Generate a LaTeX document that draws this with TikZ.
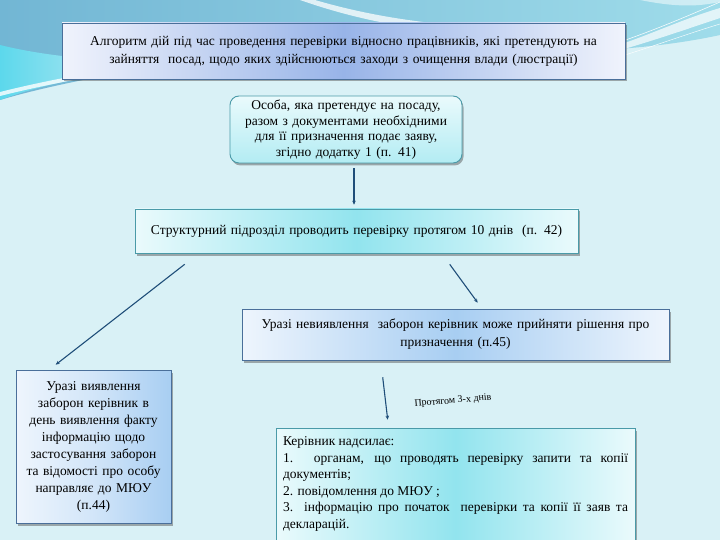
\documentclass[tikz,border=0pt]{standalone}
\usepackage{fontspec}
\setmainfont{Liberation Serif}
\newfontfamily\tms{Liberation Serif}
\usetikzlibrary{shadows,calc,arrows.meta}
\definecolor{bgc}{HTML}{D9F1F6}
\definecolor{topteal}{HTML}{72B6D4}
\definecolor{topcyan}{HTML}{9FDCEA}
\definecolor{brightcyan}{HTML}{5CD8EC}
\definecolor{arrowc}{HTML}{1F4E79}
\definecolor{bordblue}{HTML}{4A6F9A}
\definecolor{bordteal}{HTML}{4A9AA8}
\definecolor{peri}{HTML}{98B4E8}
\definecolor{periedge}{HTML}{F0F3FC}
\definecolor{cyanmid}{HTML}{92E4EE}
\definecolor{cyanedge}{HTML}{EAFAFC}
\definecolor{skymid}{HTML}{A8CEF2}
\definecolor{skyedge}{HTML}{EEF5FD}
\tikzset{
  box/.style={draw, line width=0.6pt, inner sep=3pt, align=center,
    drop shadow={shadow xshift=1.5pt, shadow yshift=-2.5pt, fill=black!70, opacity=0.45}},
  titlebox/.style={box, draw=bordblue, left color=periedge, right color=periedge, middle color=peri},
  roundbox/.style={box, draw=bordteal, rounded corners=9pt, line width=0.9pt, top color=cyanedge, bottom color=cyanmid!70},
  cyanbox/.style={box, draw=bordteal, left color=cyanedge, right color=cyanedge, middle color=cyanmid},
  skybox/.style={box, draw=bordblue, left color=skyedge, right color=skyedge, middle color=skymid},
  conn/.style={draw=arrowc, line width=1.1pt, -{Stealth[length=4pt,width=3.5pt]}},
  txt/.style={font=\tms\fontsize{13.5}{18}\selectfont}
}
\begin{document}
\begin{tikzpicture}[x=1pt,y=-1pt]
\useasboundingbox (0,0) rectangle (720,540);
% background
\fill[bgc] (0,0) rectangle (720,540);
\shade[left color=topteal, right color=topcyan] (0,0) -- (720,0) -- (720,35) .. controls (560,70) and (330,40) .. (200,60) .. controls (120,72) and (50,85) .. (0,100) -- cycle;
\shade[left color=brightcyan, right color=topcyan!60] (0,45) .. controls (40,55) and (90,60) .. (140,62) -- (140,70) .. controls (90,75) and (40,85) .. (0,100) -- cycle;
\fill[white, opacity=0.8] (0,92) .. controls (40,82) and (90,72) .. (140,66) -- (140,69) .. controls (90,76) and (40,86) .. (0,96) -- cycle;
\fill[white, opacity=0.75] (315,0) .. controls (390,22) and (470,30) .. (560,28) -- (560,34) .. controls (460,38) and (380,28) .. (300,0) -- cycle;
\fill[white, opacity=0.7] (720,8) .. controls (680,20) and (650,35) .. (610,48) -- (610,53) .. controls (650,42) and (690,28) .. (720,18) -- cycle;
\draw[white, line width=0.6pt, opacity=0.9] (720,2) .. controls (690,15) and (660,28) .. (620,42);
\draw[white, line width=0.5pt, opacity=0.9] (720,24) .. controls (690,33) and (660,44) .. (625,55);
\fill[white, opacity=0.5] (640,0) .. controls (680,8) and (700,6) .. (720,2) -- (720,0) -- cycle;

% nodes
\node[titlebox, txt, minimum width=563, minimum height=56, text width=555] (title) at (343.5,51)
  {Алгоритм дій під час проведення перевірки відносно працівників, які претендують на\\зайняття\ \ посад, щодо яких здійснюються заходи з очищення влади (люстрації)};
\node[roundbox, txt, minimum width=230, minimum height=67, text width=226, font=\tms\fontsize{13.5}{15.5}\selectfont] (apply) at (346,129.5)
  {Особа, яка претендує на посаду,\\разом з документами необхідними\\для її призначення подає заяву,\\згідно додатку 1 (п. 41)};
\node[cyanbox, txt, minimum width=443, minimum height=44, text width=435] (check) at (356.5,231)
  {Структурний підрозділ проводить перевірку протягом 10 днів\ \ (п. 42)};
\node[skybox, txt, minimum width=427, minimum height=51, text width=418] (noban) at (455.5,334.5)
  {Уразі невиявлення\ \ заборон керівник може прийняти рішення про\\призначення (п.45)};
\node[skybox, left color=skyedge, right color=skymid, middle color=skyedge!60!skymid, minimum width=153, minimum height=153, text width=149, font=\tms\fontsize{13.5}{17}\selectfont] (ban) at (93.5,446.5)
  {Уразі виявлення\\заборон керівник в\\день виявлення факту\\інформацію щодо\\застосування заборон\\та відомості про особу\\направляє до МЮУ\\(п.44)};
\node[cyanbox, minimum width=359, minimum height=112, text width=345, align=justify, font=\tms\fontsize{13.5}{16.5}\selectfont] (send) at (455.5,484)
  {Керівник надсилає:\\1. органам, що проводять перевірку запити та копії документів;\\2. повідомлення до МЮУ ;\\3. інформацію про початок\ \ перевірки та копії її заяв та декларацій.};
\node[font=\tms\fontsize{10}{12}\selectfont, rotate=5, inner sep=1pt] (days) at (453,401) {Протягом 3-х днів};

% connectors
\draw[conn] ($(apply.south)+(8,5)$) -- ($(check.north)+(-2.5,-4)$);
\draw[conn] ($(check.south west)+(50,11)$) -- ($(ban.north west)+(40,-5)$);
\draw[conn] ($(check.south west)+(315,11)$) -- ($(noban.north west)+(236,-6)$);
\draw[conn] ($(noban.south west)+(141,17)$) -- ($(send.north west)+(112,-8)$);
\end{tikzpicture}
\end{document}
